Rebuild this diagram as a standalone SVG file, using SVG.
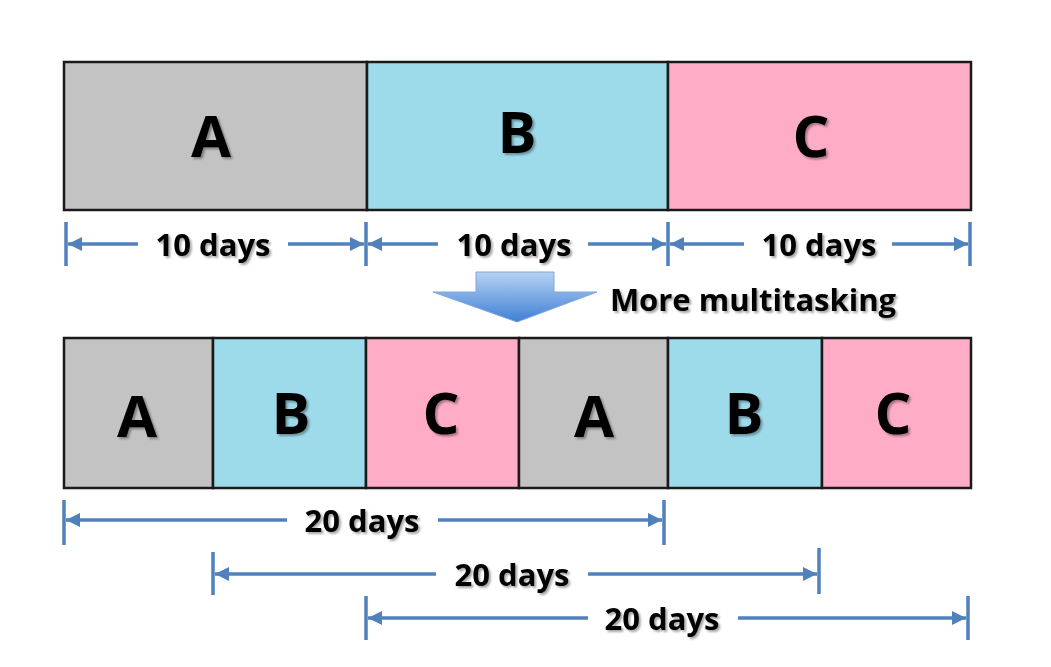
<svg xmlns="http://www.w3.org/2000/svg" width="1051" height="667" viewBox="0 0 1051 667">
<defs>
<style>
.box{stroke:#1a1a1a;stroke-width:2.5}
.g{fill:#C3C3C3}.b{fill:#9DDBEA}.p{fill:#FFACC7}
.big{font-family:"Open Sans","Liberation Sans",sans-serif;font-weight:700;font-size:58px;fill:#000;text-anchor:middle;filter:url(#sh)}
.lbl{font-family:"Open Sans","Liberation Sans",sans-serif;font-weight:700;font-size:31px;fill:#000;text-anchor:middle;filter:url(#sh)}
.dim{stroke:#4F81BD;stroke-width:3.5;fill:none}
.tick{stroke:#4F81BD;stroke-width:3.5}
</style>
<filter id="sh" x="-10%" y="-20%" width="130%" height="150%">
<feDropShadow dx="2" dy="2" stdDeviation="1.2" flood-color="#000" flood-opacity="0.35"/>
</filter>
<marker id="ah" viewBox="0 0 10 10" refX="10" refY="5" markerWidth="4" markerHeight="4" orient="auto-start-reverse">
<path d="M0,0 L10,5 L0,10 z" fill="#4F81BD"/>
</marker>
<linearGradient id="ag" x1="0" y1="0" x2="0" y2="1">
<stop offset="0" stop-color="#B7D2F3"/>
<stop offset="1" stop-color="#3F7FD6"/>
</linearGradient>
</defs>

<g id="top-A"><rect class="box g" x="64" y="62" width="303" height="148"/><text class="big" x="211" y="157">A</text></g>
<g id="top-B"><rect class="box b" x="367" y="62" width="301" height="148"/><text class="big" x="517" y="153">B</text></g>
<g id="top-C"><rect class="box p" x="668" y="62" width="303" height="148"/><text class="big" x="811" y="157">C</text></g>

<g id="bot-A1"><rect class="box g" x="64" y="338" width="149" height="150"/><text class="big" x="137" y="437">A</text></g>
<g id="bot-B1"><rect class="box b" x="213" y="338" width="153" height="150"/><text class="big" x="291" y="434">B</text></g>
<g id="bot-C1"><rect class="box p" x="366" y="338" width="153" height="150"/><text class="big" x="441" y="434">C</text></g>
<g id="bot-A2"><rect class="box g" x="519" y="338" width="149" height="150"/><text class="big" x="594" y="437">A</text></g>
<g id="bot-B2"><rect class="box b" x="668" y="338" width="154" height="150"/><text class="big" x="744" y="434">B</text></g>
<g id="bot-C2"><rect class="box p" x="822" y="338" width="149" height="150"/><text class="big" x="893" y="434">C</text></g>

<g id="shift-arrow">
<path d="M476,272 H554 V292 H597 L517,322 L433,292 H476 Z" fill="url(#ag)" stroke="#7FA7DA" stroke-width="1"/>
<text class="lbl" x="753" y="311">More multitasking</text>
</g>

<g id="connectors">
<line class="tick" x1="66" y1="222" x2="66" y2="266"/>
<line class="tick" x1="366" y1="222" x2="366" y2="266"/>
<line class="tick" x1="668" y1="222" x2="668" y2="266"/>
<line class="tick" x1="970" y1="222" x2="970" y2="266"/>
<line class="dim" x1="68" y1="244" x2="138" y2="244" marker-start="url(#ah)"/>
<line class="dim" x1="288" y1="244" x2="364" y2="244" marker-end="url(#ah)"/>
<line class="dim" x1="368" y1="244" x2="438" y2="244" marker-start="url(#ah)"/>
<line class="dim" x1="588" y1="244" x2="666" y2="244" marker-end="url(#ah)"/>
<line class="dim" x1="670" y1="244" x2="744" y2="244" marker-start="url(#ah)"/>
<line class="dim" x1="892" y1="244" x2="968" y2="244" marker-end="url(#ah)"/>

<line class="tick" x1="64" y1="500" x2="64" y2="545"/>
<line class="tick" x1="664" y1="500" x2="664" y2="545"/>
<line class="dim" x1="66" y1="520" x2="287" y2="520" marker-start="url(#ah)"/>
<line class="dim" x1="438" y1="520" x2="662" y2="520" marker-end="url(#ah)"/>

<line class="tick" x1="213" y1="552" x2="213" y2="595"/>
<line class="tick" x1="819" y1="548" x2="819" y2="594"/>
<line class="dim" x1="215" y1="574" x2="436" y2="574" marker-start="url(#ah)"/>
<line class="dim" x1="588" y1="574" x2="817" y2="574" marker-end="url(#ah)"/>

<line class="tick" x1="366" y1="596" x2="366" y2="640"/>
<line class="tick" x1="968" y1="596" x2="968" y2="640"/>
<line class="dim" x1="368" y1="618" x2="588" y2="618" marker-start="url(#ah)"/>
<line class="dim" x1="738" y1="618" x2="966" y2="618" marker-end="url(#ah)"/>
</g>

<g id="labels">
<text class="lbl" x="213" y="256">10 days</text>
<text class="lbl" x="514" y="256">10 days</text>
<text class="lbl" x="819" y="256">10 days</text>
<text class="lbl" x="362" y="532">20 days</text>
<text class="lbl" x="512" y="586">20 days</text>
<text class="lbl" x="662" y="630">20 days</text>
</g>
</svg>
